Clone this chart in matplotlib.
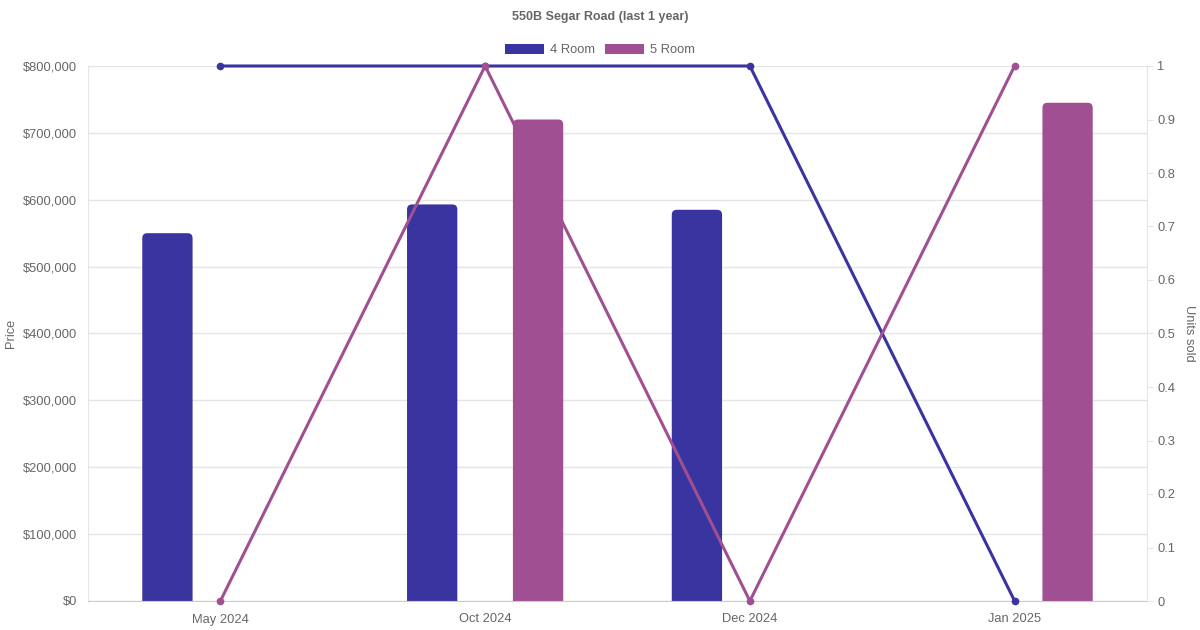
import matplotlib
matplotlib.use('Agg')
import matplotlib.pyplot as plt
from matplotlib.patches import Patch, FancyBboxPatch
from matplotlib.ticker import FuncFormatter, MultipleLocator
import numpy as np

months = ['May 2024', 'Oct 2024', 'Dec 2024', 'Jan 2025']
price_4room = [550000, 593000, 585000, None]
price_5room = [None, 720000, None, 745000]
units_4room = [1, 1, 1, 0]
units_5room = [0, 1, 0, 1]

c4 = '#3a34a0'
c5 = '#a05092'
txt = '#666666'
grid = '#e5e5e5'

plt.rcParams['font.family'] = ['Liberation Sans', 'DejaVu Sans']

fig = plt.figure(figsize=(12, 6.3), dpi=100)
ax = fig.add_axes([88/1200, 29/630, (1147-88)/1200, (601-66)/630])
x = np.arange(len(months))

ax.set_xlim(-0.5, 3.5)
ax.set_ylim(0, 800000)

# bars with rounded tops (bottom corners pushed below zero and clipped)
px_x = 4 / 1059
px_y = 800000 / 535
for vals, col, off in [(price_4room, c4, -0.2), (price_5room, c5, 0.2)]:
    xv = [xi + off for xi, v in zip(x, vals) if v is not None]
    yv = [v for v in vals if v is not None]
    bars = ax.bar(xv, yv, width=0.19, color=col, zorder=2)
    for r in bars.patches:
        bx, bw, bh = r.get_x(), r.get_width(), r.get_height()
        r.set_visible(False)
        fb = FancyBboxPatch((bx, -10 * px_y), bw, bh + 10 * px_y,
                            boxstyle=f'round,pad=0,rounding_size={5 * px_x}',
                            mutation_aspect=px_y / px_x, facecolor=col,
                            edgecolor='none', zorder=2)
        ax.add_patch(fb)

ax.yaxis.set_major_locator(MultipleLocator(100000))
ax.yaxis.set_major_formatter(FuncFormatter(lambda v, p: f'${int(v):,}'))
ax.set_xticks(x)
ax.set_xticklabels(months)
ax.grid(axis='y', color=grid, linewidth=1, zorder=0)
ax.tick_params(axis='y', length=0, pad=8, labelsize=9.3, colors=txt)
ax.tick_params(axis='x', length=0, pad=9, labelsize=9.3, colors=txt)
for s in ['top', 'right']:
    ax.spines[s].set_visible(False)
ax.spines['left'].set_color(grid)
ax.spines['bottom'].set_color('#cccccc')
ax.set_ylabel('Price', color=txt, fontsize=9.3, va='center')
ax.yaxis.set_label_coords(-77/1059, 0.5)

ax2 = ax.twinx()
ax2.plot(x, units_4room, color=c4, linewidth=2.2, marker='o', markersize=4.5, zorder=3, clip_on=False)
ax2.plot(x, units_5room, color=c5, linewidth=2.2, marker='o', markersize=4.5, zorder=3, clip_on=False)
ax2.set_ylim(0, 1)
ax2.yaxis.set_major_locator(MultipleLocator(0.1))
ax2.yaxis.set_major_formatter(FuncFormatter(lambda v, p: str(int(round(v))) if round(v, 3) in (0, 1) else f'{v:.1f}'))
ax2.tick_params(axis='y', length=4.5, width=0.8, color=grid, labelcolor=txt, pad=3, labelsize=9.3)
for s in ['top', 'left', 'bottom']:
    ax2.spines[s].set_visible(False)
ax2.spines['right'].set_color(grid)
ax2.set_ylabel('Units sold', color=txt, fontsize=9.3, rotation=270, va='center')
ax2.yaxis.set_label_coords(1101/1059, 0.5)

fig.text(0.5, 1 - 17/630, '550B Segar Road (last 1 year)', ha='center', va='center',
         fontsize=9, fontweight='bold', color=txt)
handles = [Patch(facecolor=c4, label='4 Room'), Patch(facecolor=c5, label='5 Room')]
fig.legend(handles=handles, loc='center', bbox_to_anchor=(0.5, 1 - 50/630), ncol=2,
           frameon=False, fontsize=9.3, labelcolor=txt, handlelength=3.0, handleheight=0.9,
           handletextpad=0.45, columnspacing=0.8)

fig.savefig('out.png', dpi=100)
